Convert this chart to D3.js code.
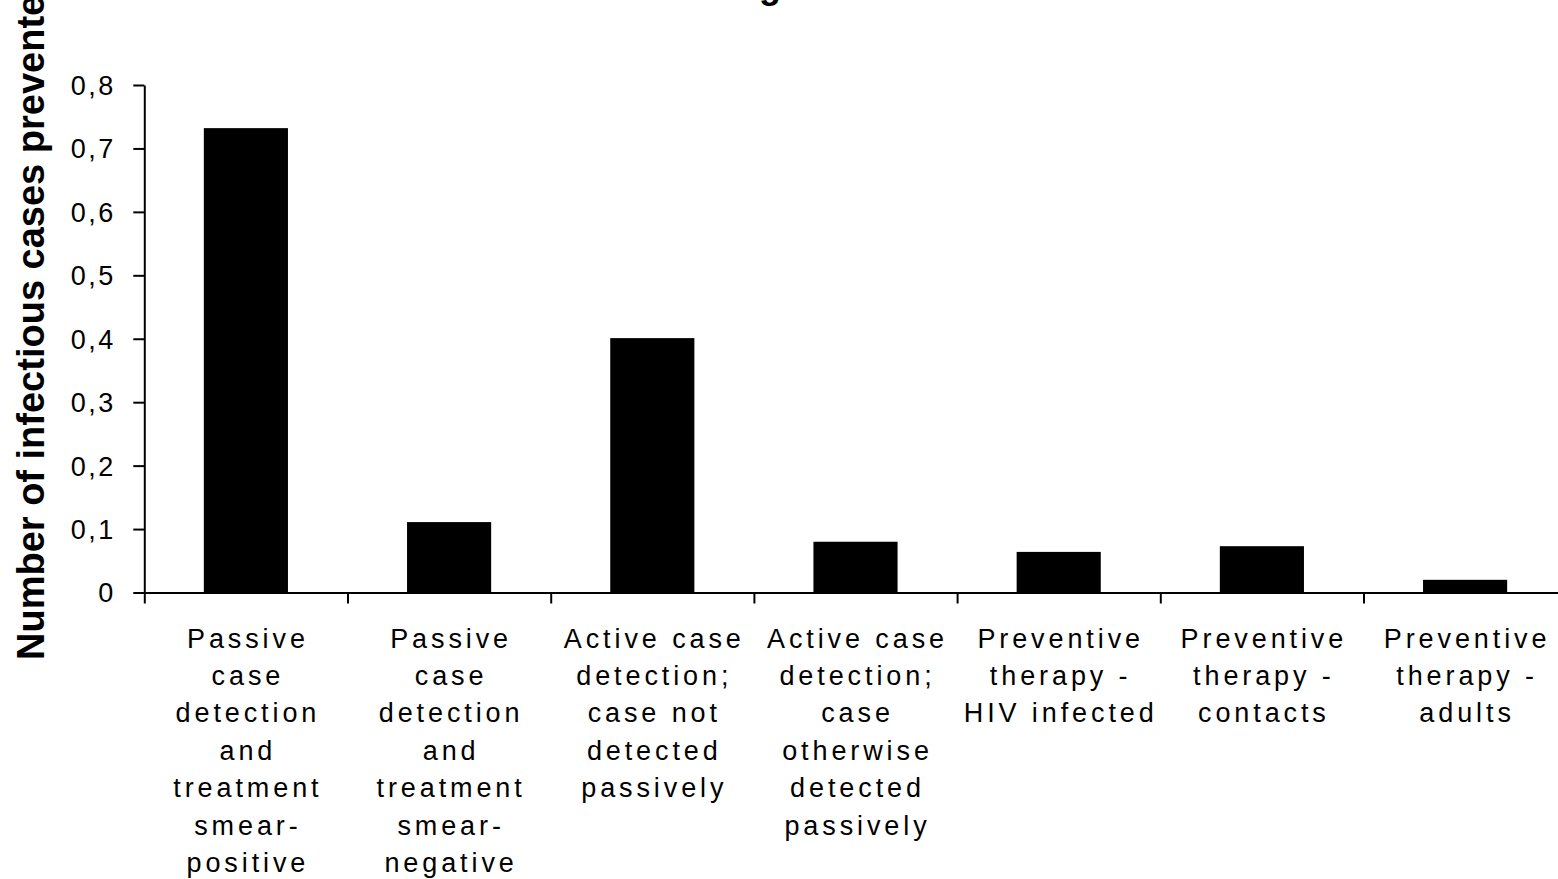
<!DOCTYPE html>
<html><head><meta charset="utf-8">
<script src="https://cdn.jsdelivr.net/npm/d3@7"></script>
<style>
html,body{margin:0;padding:0;background:#fff;overflow:hidden;}
svg{display:block;}
text{font-family:"Liberation Sans",Arial,sans-serif;fill:#000;}
</style></head><body>
<svg id="chart" width="1558" height="879"></svg>
<script>
const categories = [
  "Passive\ncase\ndetection\nand\ntreatment\nsmear-\npositive",
  "Passive\ncase\ndetection\nand\ntreatment\nsmear-\nnegative",
  "Active case\ndetection;\ncase not\ndetected\npassively",
  "Active case\ndetection;\ncase\notherwise\ndetected\npassively",
  "Preventive\ntherapy -\nHIV infected",
  "Preventive\ntherapy -\ncontacts",
  "Preventive\ntherapy -\nadults"
];
const values = [0.732, 0.111, 0.401, 0.080, 0.064, 0.073, 0.020];
const yTicks = [0, 0.1, 0.2, 0.3, 0.4, 0.5, 0.6, 0.7, 0.8];
const yTickLabels = ["0", "0,1", "0,2", "0,3", "0,4", "0,5", "0,6", "0,7", "0,8"];
const yAxisTitle = "Number of infectious cases prevented";
const chartTitle = "g";

const svg = d3.select("#chart");
const left = 144.3, zeroY = 592.5, topY = 85, step = 203.2;

const x = d3.scaleBand().domain(categories).range([left, left + step * categories.length]).paddingInner(0.586).paddingOuter(0.293);
const y = d3.scaleLinear().domain([0, 0.8]).range([zeroY, topY]);

// bars
svg.append("g").selectAll("rect").data(values).join("rect")
  .attr("x", (d, i) => x(categories[i]))
  .attr("width", x.bandwidth())
  .attr("y", d => y(d))
  .attr("height", d => y(0) - y(d))
  .attr("fill", "#000");

// y axis
const yAxis = d3.axisLeft(y).tickValues(yTicks).tickSize(11).tickSizeOuter(0)
  .tickFormat((d, i) => yTickLabels[i]).tickPadding(17.5);
const gy = svg.append("g").attr("transform", `translate(${left},0)`).call(yAxis);
gy.select(".domain").attr("stroke", "#000").attr("stroke-width", 2);
gy.selectAll(".tick line").attr("stroke", "#000").attr("stroke-width", 2);
gy.selectAll(".tick text").attr("font-size", 27).attr("letter-spacing", "2.5px")
  .style("font-family", '"Liberation Sans",Arial,sans-serif').attr("fill", "#000").attr("dy", "0.35em");

// x axis
const xAxisScale = d3.scaleLinear().domain([0, categories.length]).range([left, left + step * categories.length]);
const gx = svg.append("g").attr("transform", `translate(0,${zeroY})`)
  .call(d3.axisBottom(xAxisScale).tickValues(d3.range(0, categories.length)).tickSize(11).tickSizeOuter(0).tickFormat(""));
gx.select(".domain").attr("stroke", "#000").attr("stroke-width", 2);
gx.selectAll(".tick line").attr("stroke", "#000").attr("stroke-width", 2);

// x labels
const lab = svg.append("g").selectAll("text").data(categories).join("text")
  .attr("text-anchor", "middle")
  .attr("font-size", 27)
  .attr("letter-spacing", "3.9px");
lab.each(function(d) {
  const t = d3.select(this);
  const cx = x(d) + x.bandwidth() / 2 + 2;
  d.split("\n").forEach((line, j) => {
    t.append("tspan").attr("x", cx).attr("y", 647.5 + j * 37.4).text(line);
  });
});

// y axis title
svg.append("text")
  .attr("transform", "translate(44,660) rotate(-90)")
  .attr("text-anchor", "start")
  .attr("font-size", 38).attr("font-weight", "bold")
  .text(yAxisTitle);

// chart title (only lower part visible)
svg.append("text").attr("x", 770).attr("y", -2).attr("text-anchor", "middle")
  .attr("font-size", 36).attr("font-weight", "bold").text(chartTitle);
</script>
</body></html>
